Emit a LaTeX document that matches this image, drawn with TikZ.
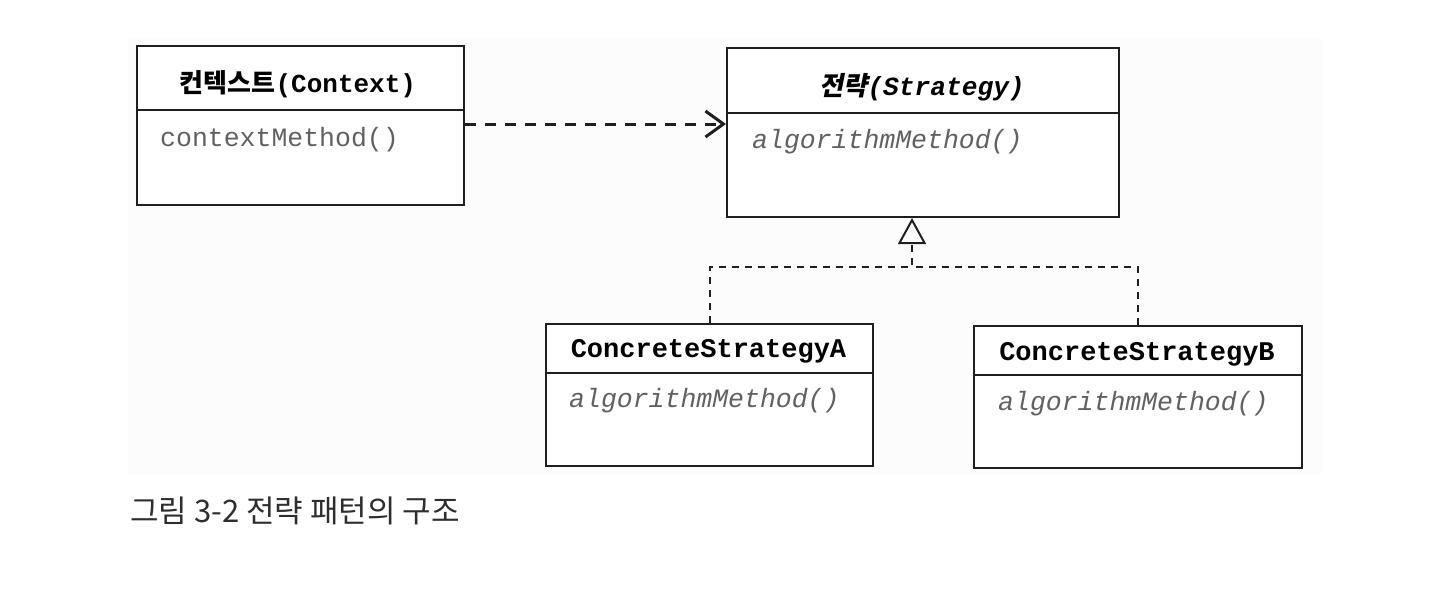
\documentclass[tikz,border=0pt]{standalone}
\usepackage{fontspec}
\setmonofont{Liberation Mono}
\newfontfamily\krfont{Noto Sans CJK KR}
\newfontfamily\krslfont[FakeSlant=0.2]{Noto Sans CJK KR}
\usetikzlibrary{arrows.meta}
\tikzset{
  cls/.style={draw=black!88, line width=2pt, anchor=north west, inner sep=0pt, fill=white},
  divider/.style={draw=black!88, line width=2.2pt},
  ttl/.style={anchor=base, inner sep=0pt, text=black, font=\ttfamily\bfseries\fontsize{27}{30}\selectfont},
  mth/.style={anchor=base west, inner sep=0pt, text=black!62, font=\ttfamily\fontsize{26.5}{30}\selectfont},
  amth/.style={mth, font=\ttfamily\itshape\fontsize{26.5}{30}\selectfont},
  dep/.style={draw=black!88, line width=3pt, dash pattern=on 11pt off 9pt, -{Straight Barb[length=18pt, width=26pt, line width=3pt]}},
  gen/.style={draw=black!88, line width=2pt, dash pattern=on 7pt off 6pt},
  gentip/.style={gen, -{Triangle[open, length=26pt, width=28pt, line width=2pt]}},
}
\begin{document}
\begin{tikzpicture}[x=1pt, y=-1pt]
  \fill[white] (0,0) rectangle (1440,595);
  \useasboundingbox (0,0) rectangle (1440,595);
  \fill[black!1.3] (128,38) rectangle (1322,475);

  % Context
  \node[cls, minimum width=327pt, minimum height=159pt] (ctx) at (136,45) {};
  \draw[divider] (ctx.west |- 0,110) -- (ctx.east |- 0,110);
  \node[ttl, font=\ttfamily\bfseries\fontsize{26}{30}\selectfont] (ctxT) at (298,92) {{\krfont\bfseries 컨텍스트}(Context)};
  \node[mth] (ctxM) at (160,146) {contextMethod()};

  % Strategy
  \node[cls, minimum width=392pt, minimum height=169pt] (str) at (726,47) {};
  \draw[divider] (str.west |- 0,113) -- (str.east |- 0,113);
  \node[ttl, font=\ttfamily\bfseries\itshape\fontsize{26.2}{30}\selectfont] (strT) at (922,95) {{\krslfont\bfseries 전략}(Strategy)};
  \node[amth] (strM) at (752,148) {algorithmMethod()};

  % Concrete A
  \node[cls, minimum width=327pt, minimum height=142pt] (ca) at (545,323) {};
  \draw[divider] (ca.west |- 0,373) -- (ca.east |- 0,373);
  \node[ttl] (caT) at (708.5,357) {ConcreteStrategyA};
  \node[amth] (caM) at (569,407) {algorithmMethod()};

  % Concrete B
  \node[cls, minimum width=328pt, minimum height=142pt] (cb) at (973,325) {};
  \draw[divider] (cb.west |- 0,375) -- (cb.east |- 0,375);
  \node[ttl] (cbT) at (1137,360) {ConcreteStrategyB};
  \node[amth] (cbM) at (998,410) {algorithmMethod()};

  % dependency
  \draw[dep] (ctx.east |- 0,124) -- (str.west |- 0,124);

  % realization
  \coordinate (jn) at (912,267);
  \draw[gen] (ca.north) |- (jn);
  \draw[gentip] (cb.north) |- (jn) -- (jn |- str.south);

  % caption
  \node[anchor=base west, inner sep=0pt, text=black!82, font=\krfont\fontsize{31}{34}\selectfont] (cap) at (130,522) {그림 3-2 전략 패턴의 구조};
\end{tikzpicture}
\end{document}
